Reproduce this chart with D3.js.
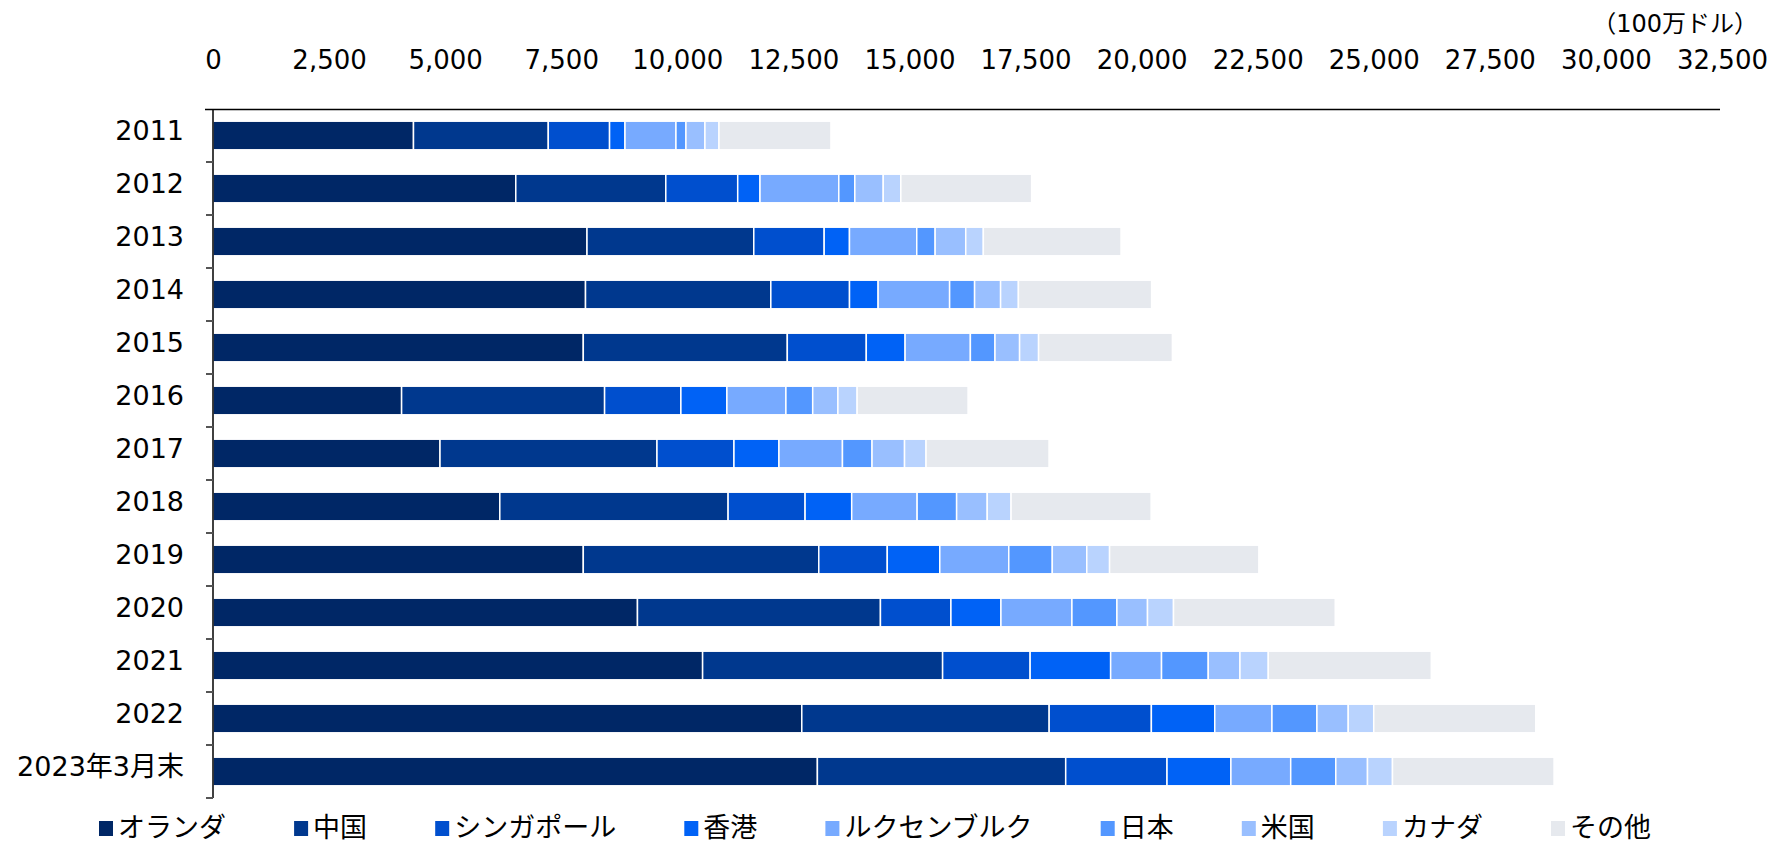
<!DOCTYPE html>
<html>
<head>
<meta charset="utf-8">
<script src="https://cdn.jsdelivr.net/npm/d3@7"></script>
<style>
  body { margin: 0; background: #fff; }
  text { font-family: "DejaVu Sans", "Noto Sans CJK JP", sans-serif; fill: #000; }
</style>
</head>
<body>
<script>
const categories = ['2011', '2012', '2013', '2014', '2015', '2016', '2017', '2018', '2019', '2020', '2021', '2022', '2023年3月末']
const seriesNames = ['オランダ', '中国', 'シンガポール', '香港', 'ルクセンブルク', '日本', '米国', 'カナダ', 'その他']

const netherlands = [4318, 6521, 8055, 8023, 7975, 4062, 4889, 6177, 7975, 9142, 10545, 12681, 13017]
const china = [2903, 3231, 3592, 3991, 4394, 4372, 4673, 4917, 5072, 5233, 5169, 5328, 5348]
const singapore = [1320, 1549, 1516, 1695, 1701, 1643, 1658, 1658, 1475, 1518, 1885, 2201, 2182]
const hongkong = [332, 480, 545, 616, 836, 991, 969, 1004, 1131, 1077, 1734, 1365, 1376]
const luxembourg = [1098, 1697, 1449, 1540, 1406, 1271, 1368, 1409, 1486, 1529, 1096, 1232, 1288]
const japan = [215, 345, 396, 538, 530, 577, 637, 851, 937, 969, 1006, 969, 971]
const usa = [409, 612, 659, 560, 530, 543, 700, 659, 743, 659, 683, 674, 683]
const canada = [302, 379, 379, 383, 409, 414, 463, 513, 491, 560, 610, 549, 538]
const others = [2412, 2817, 2966, 2869, 2882, 2389, 2649, 3017, 3215, 3483, 3511, 3489, 3480]

const tickValues = d3.range(0, 32501, 2500)
const unitLabel = '（100万ドル）'

const colors = ['#002766', '#00388e', '#004fce', '#0062f6', '#77aaff', '#5397ff', '#99bfff', '#b9d3fe', '#e6e9ee']

const w = 1773
const h = 845
const allSeries = [netherlands, china, singapore, hongkong, luxembourg, japan, usa, canada, others]

const rows = categories.map((c, i) => {
  const row = { cat: c }
  seriesNames.forEach((s, j) => { row[s] = allSeries[j][i] })
  return row
})

const svg = d3.select('body').append('svg')
  .attr('width', w)
  .attr('height', h)

const x = d3.scaleLinear().domain([0, 32500]).range([213, 1722])
const y = d3.scaleBand().domain(categories).range([109, 798])
  .paddingInner(0.46).paddingOuter(0.23)

const stack = d3.stack().keys(seriesNames)(rows)

svg.append('g')
  .selectAll('g')
  .data(stack)
  .join('g')
  .attr('fill', (d, i) => colors[i])
  .selectAll('rect')
  .data(d => d)
  .join('rect')
  .attr('x', d => x(d[0]))
  .attr('y', d => y(d.data.cat))
  .attr('width', d => x(d[1]) - x(d[0]))
  .attr('height', y.bandwidth())
  .attr('stroke', '#fff')
  .attr('stroke-width', 1.5)

// top axis
const xAxis = svg.append('g')
  .attr('transform', 'translate(0,109)')
  .call(d3.axisTop(x).tickValues(tickValues).tickSize(0).tickPadding(40)
    .tickFormat(d3.format(',')))
xAxis.select('.domain').remove()
xAxis.selectAll('text').style('font-size', '26px').style('font-family', null)

svg.append('line')
  .attr('x1', x(0) - 8).attr('x2', x(32500) - 2)
  .attr('y1', 109.5).attr('y2', 109.5)
  .attr('stroke', '#000').attr('stroke-width', 1.5)

// left axis
const yAxis = svg.append('g')
  .attr('transform', `translate(${x(0)},0)`)
  .call(d3.axisLeft(y).tickSize(0).tickPadding(29))
yAxis.select('.domain').remove()
yAxis.selectAll('text')
  .style('font-size', '27px').style('font-family', null)
  .attr('dy', '0.18em')

svg.append('line')
  .attr('x1', x(0)).attr('x2', x(0))
  .attr('y1', 109).attr('y2', 798)
  .attr('stroke', '#000').attr('stroke-width', 1.5)

svg.append('g')
  .selectAll('line')
  .data(d3.range(1, categories.length + 1))
  .join('line')
  .attr('x1', x(0) - 7).attr('x2', x(0))
  .attr('y1', i => y.range()[0] + i * y.step())
  .attr('y2', i => y.range()[0] + i * y.step())
  .attr('stroke', '#555').attr('stroke-width', 2)

svg.append('text')
  .attr('x', 1758).attr('y', 32)
  .attr('text-anchor', 'end')
  .style('font-size', '24px')
  .text(unitLabel)

// legend
const legend = svg.append('g').attr('transform', 'translate(0,828)')
const items = legend.selectAll('g')
  .data(seriesNames)
  .join('g')
items.append('rect')
  .attr('y', -7).attr('width', 14).attr('height', 15)
  .attr('fill', (d, i) => colors[i])
items.append('text')
  .attr('x', 19).attr('dy', '0.34em')
  .style('font-size', '27px')
  .text(d => d)

const widths = []
items.each(function () { widths.push(this.getBBox().width) })
const start = 99
const end = 1651
const gap = (end - start - d3.sum(widths)) / (widths.length - 1)
let pos = start
items.attr('transform', (d, i) => {
  const t = `translate(${pos},0)`
  pos += widths[i] + gap
  return t
})
</script>
</body>
</html>
